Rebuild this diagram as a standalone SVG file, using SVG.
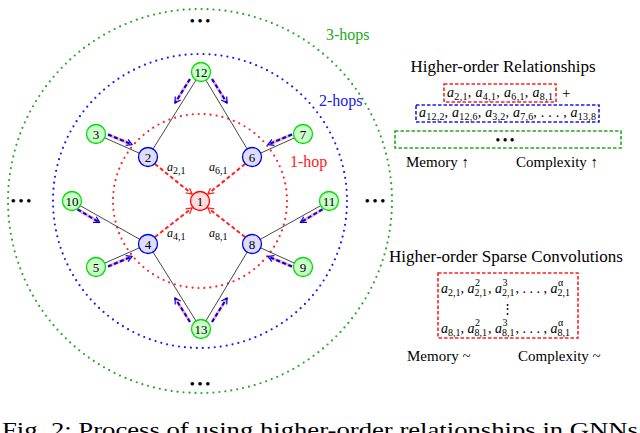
<svg xmlns="http://www.w3.org/2000/svg" width="640" height="433" viewBox="0 0 640 433">
<style>
text{font-family:"Liberation Serif","Times New Roman",serif;fill:#000}
.n{font-size:13px;text-anchor:middle}
.lbl{font-size:12px;font-style:italic}
.rl{font-size:14px;font-style:italic}
.sub{font-size:10px;font-style:normal}
.g{fill:#ccffcc;stroke:#00dd00;stroke-width:1.3}
.b{fill:#ddddff;stroke:#0000ee;stroke-width:1.3}
.r{fill:#ffdddd;stroke:#ff0000;stroke-width:1.3}
.e{stroke:#333;stroke-width:0.9}
.ba{stroke:#0000ee;stroke-width:2;stroke-dasharray:4 2.5;fill:none;marker-end:url(#mb)}
.bu{stroke:#ffaaaa;stroke-width:3;fill:none}
.ra{stroke:#ff2020;stroke-width:2;stroke-dasharray:4 2.5;fill:none;marker-end:url(#mr)}
</style>
<defs>
<marker id="mb" viewBox="0 0 10 10" refX="8" refY="5" markerWidth="4" markerHeight="4" orient="auto" markerUnits="strokeWidth"><polyline points="1,1 8,5 1,9" fill="none" stroke="#0000ee" stroke-width="1.5"/></marker>
<marker id="mr" viewBox="0 0 10 10" refX="8" refY="5" markerWidth="4" markerHeight="4" orient="auto" markerUnits="strokeWidth"><polyline points="1,1 8,5 1,9" fill="none" stroke="#ff2020" stroke-width="1.5"/></marker>
</defs>
<rect width="640" height="433" fill="#fff"/>
<g id="hops" fill="none" stroke-linecap="round" stroke-width="2.2">
<circle cx="200" cy="201" r="87" stroke="#ff2020" stroke-dasharray="0 6"/>
<circle cx="200" cy="201" r="147" stroke="#1a1aee" stroke-dasharray="0 6"/>
<circle cx="200" cy="201" r="192" stroke="#22aa22" stroke-dasharray="0 6"/>
</g>
<text x="290" y="167" font-size="16" style="fill:#ff2020">1-hop</text>
<text x="319" y="106" font-size="16" style="fill:#1a1aee">2-hops</text>
<text x="326" y="40" font-size="16" style="fill:#22aa22">3-hops</text>
<g id="dots" font-size="13" font-weight="bold"><text x="200" y="25" text-anchor="middle">• • •</text><text x="200" y="388" text-anchor="middle">• • •</text><text x="21" y="205" text-anchor="middle">• • •</text><text x="375" y="205" text-anchor="middle">• • •</text></g>
<g id="connectors">
<line class="e" x1="201" y1="72" x2="148" y2="157"/><line class="e" x1="201" y1="72" x2="252" y2="157"/>
<line class="e" x1="201" y1="329" x2="148" y2="244"/><line class="e" x1="201" y1="329" x2="252" y2="244"/>
<line class="e" x1="96" y1="134" x2="148" y2="157"/><line class="e" x1="303" y1="134" x2="252" y2="157"/>
<line class="e" x1="96" y1="267" x2="148" y2="244"/><line class="e" x1="303" y1="267" x2="252" y2="244"/>
<line class="e" x1="72" y1="201" x2="148" y2="244"/><line class="e" x1="329" y1="201" x2="252" y2="244"/>
<path class="bu" d="M190,79L175,103M212,79L227,103M190,322L175,298M212,322L227,298M108,134.5L132,144.5M292,134.5L268,144.5M108,266.5L132,256.5M292,266.5L268,256.5M77.5,209.4L99.5,222.4M322.5,209.4L300.5,222.4"/>
<path class="ba" d="M190,79L175,103"/><path class="ba" d="M212,79L227,103"/>
<path class="ba" d="M190,322L175,298"/><path class="ba" d="M212,322L227,298"/>
<path class="ba" d="M108,134.5L132,144.5"/><path class="ba" d="M292,134.5L268,144.5"/>
<path class="ba" d="M108,266.5L132,256.5"/><path class="ba" d="M292,266.5L268,256.5"/>
<path class="ba" d="M77.5,209.4L99.5,222.4"/><path class="ba" d="M322.5,209.4L300.5,222.4"/>
<path class="ra" d="M155,164L192,194"/><path class="ra" d="M245,164L208,194"/>
<path class="ra" d="M155,237L192,208"/><path class="ra" d="M245,237L208,208"/>
</g>
<g id="n1"><circle class="r" cx="200" cy="201" r="9.5"/><text class="n" x="200" y="206">1</text></g>
<g id="n2"><circle class="b" cx="148" cy="157" r="9.5"/><text class="n" x="148" y="162">2</text></g>
<g id="n6"><circle class="b" cx="252" cy="157" r="9.5"/><text class="n" x="252" y="162">6</text></g>
<g id="n4"><circle class="b" cx="148" cy="244" r="9.5"/><text class="n" x="148" y="249">4</text></g>
<g id="n8"><circle class="b" cx="252" cy="244" r="9.5"/><text class="n" x="252" y="249">8</text></g>
<g id="n12"><circle class="g" cx="201" cy="72" r="9.5"/><text class="n" x="201" y="77">12</text></g>
<g id="n13"><circle class="g" cx="201" cy="329" r="9.5"/><text class="n" x="201" y="334">13</text></g>
<g id="n3"><circle class="g" cx="96" cy="134" r="9.5"/><text class="n" x="96" y="139">3</text></g>
<g id="n7"><circle class="g" cx="303" cy="134" r="9.5"/><text class="n" x="303" y="139">7</text></g>
<g id="n5"><circle class="g" cx="96" cy="267" r="9.5"/><text class="n" x="96" y="272">5</text></g>
<g id="n9"><circle class="g" cx="303" cy="267" r="9.5"/><text class="n" x="303" y="272">9</text></g>
<g id="n10"><circle class="g" cx="72" cy="201" r="9.5"/><text class="n" x="72" y="206">10</text></g>
<g id="n11"><circle class="g" cx="329" cy="201" r="9.5"/><text class="n" x="329" y="206">11</text></g>
<g id="labels">
<text class="lbl" x="167" y="171">a<tspan class="sub" dy="3" font-size="9">2,1</tspan></text>
<text class="lbl" x="209" y="171">a<tspan class="sub" dy="3" font-size="9">6,1</tspan></text>
<text class="lbl" x="167" y="237">a<tspan class="sub" dy="3" font-size="9">4,1</tspan></text>
<text class="lbl" x="209" y="237">a<tspan class="sub" dy="3" font-size="9">8,1</tspan></text>
</g>
<g id="rel">
<text x="503" y="72" font-size="17" text-anchor="middle">Higher-order Relationships</text>
<rect x="444" y="84" width="112" height="18" fill="none" stroke="#ff2020" stroke-width="1.6" stroke-dasharray="3.5 2"/>
<text class="rl" x="447" y="97" textLength="106" lengthAdjust="spacing">a<tspan class="sub" dy="3">2,1</tspan><tspan dy="-3">, a</tspan><tspan class="sub" dy="3">4,1</tspan><tspan dy="-3">, a</tspan><tspan class="sub" dy="3">6,1</tspan><tspan dy="-3">, a</tspan><tspan class="sub" dy="3">8,1</tspan></text>
<text x="562" y="98" font-size="15">+</text>
<rect x="416" y="105" width="183" height="17" fill="none" stroke="#1a1aee" stroke-width="1.6" stroke-dasharray="3.5 2"/>
<text class="rl" x="419" y="117" textLength="177" lengthAdjust="spacing">a<tspan class="sub" dy="3">12,2</tspan><tspan dy="-3">, a</tspan><tspan class="sub" dy="3">12,6</tspan><tspan dy="-3">, a</tspan><tspan class="sub" dy="3">3,2</tspan><tspan dy="-3">, a</tspan><tspan class="sub" dy="3">7,6</tspan><tspan dy="-3" font-style="normal">, . . . , </tspan><tspan>a</tspan><tspan class="sub" dy="3">13,8</tspan></text>
<rect x="395" y="131" width="226" height="17" fill="none" stroke="#22aa22" stroke-width="1.6" stroke-dasharray="3.5 2"/>
<text x="505" y="144" font-size="12" font-weight="bold" text-anchor="middle">• • •</text>
<text x="406" y="167" font-size="15">Memory ↑</text>
<text x="516" y="167" font-size="15">Complexity  ↑</text>
</g>
<g id="sparse">
<text x="506" y="262" font-size="17" text-anchor="middle">Higher-order Sparse Convolutions</text>
<rect x="438" y="273" width="140" height="65" fill="none" stroke="#ff2020" stroke-width="1.6" stroke-dasharray="3.5 2"/>
<text class="rl" x="441" y="293">a<tspan class="sub" dy="3">2,1</tspan><tspan dy="-3">, a</tspan><tspan class="sub" dy="3">2,1</tspan><tspan class="sub" dx="-12" dy="-10">2</tspan><tspan dy="7" dx="8">, a</tspan><tspan class="sub" dy="3">2,1</tspan><tspan class="sub" dx="-12" dy="-10">3</tspan><tspan dy="7" dx="8" font-style="normal">, . . . , </tspan><tspan>a</tspan><tspan class="sub" dy="3">2,1</tspan><tspan class="sub" dx="-12" dy="-10" font-style="italic">α</tspan></text>
<text x="507" y="313" font-size="13" text-anchor="middle">⋮</text>
<text class="rl" x="441" y="333">a<tspan class="sub" dy="3">8,1</tspan><tspan dy="-3">, a</tspan><tspan class="sub" dy="3">8,1</tspan><tspan class="sub" dx="-12" dy="-10">2</tspan><tspan dy="7" dx="8">, a</tspan><tspan class="sub" dy="3">8,1</tspan><tspan class="sub" dx="-12" dy="-10">3</tspan><tspan dy="7" dx="8" font-style="normal">, . . . , </tspan><tspan>a</tspan><tspan class="sub" dy="3">8,1</tspan><tspan class="sub" dx="-12" dy="-10" font-style="italic">α</tspan></text>
<text x="407" y="361" font-size="15">Memory ~</text>
<text x="518" y="361" font-size="15">Complexity ~</text>
</g>
<text x="2" y="437" font-size="21" textLength="636" lengthAdjust="spacingAndGlyphs">Fig. 2: Process of using higher-order relationships in GNNs</text>
</svg>
